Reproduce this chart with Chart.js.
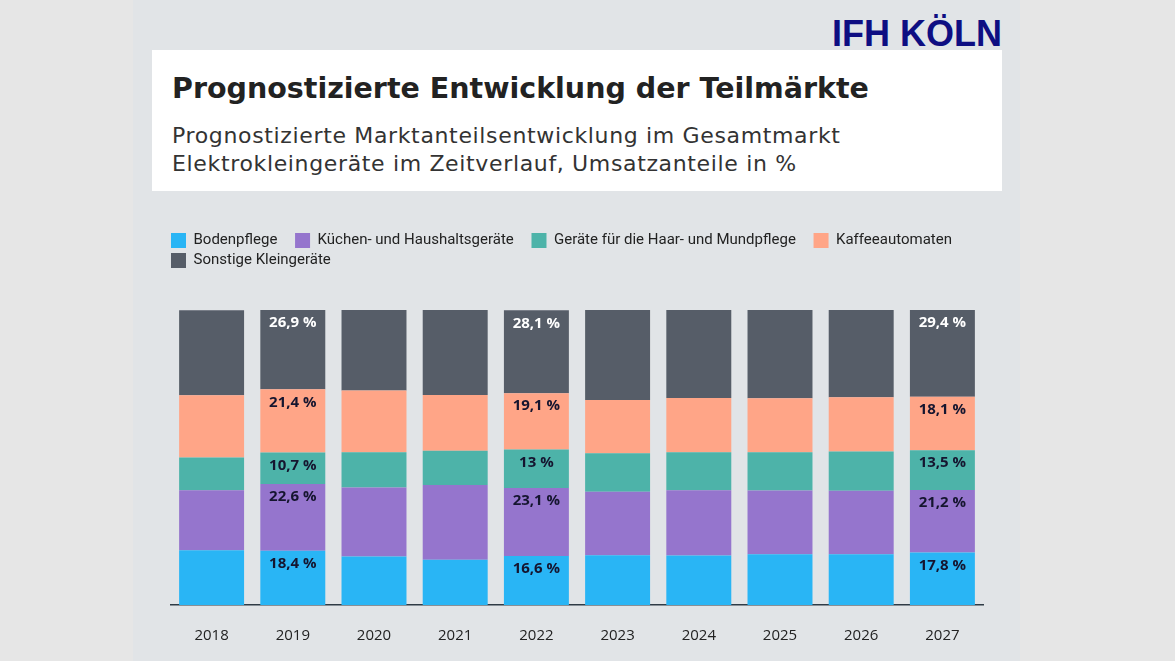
<!DOCTYPE html>
<html lang="de">
<head>
<meta charset="utf-8">
<title>Prognostizierte Entwicklung der Teilmärkte</title>
<script src="https://cdn.jsdelivr.net/npm/chart.js"></script>
<style>
  html, body { margin: 0; padding: 0; }
  body { width: 1175px; height: 661px; background: #e6e6e6; position: relative; overflow: hidden; }
  #panel { position: absolute; left: 133px; top: 0; width: 887px; height: 661px; background: #e1e4e7; }
  #logo { position: absolute; right: 173px; top: 16px; font: bold 36px/36px "Liberation Sans", Arial, sans-serif; color: #0e0e82; }
  #titlebox { position: absolute; left: 152px; top: 50px; width: 850px; height: 141px; background: #fff; }
  #title { position: absolute; left: 172px; top: 74px; font: bold 28.5px/29px "DejaVu Sans", sans-serif; color: #222; white-space: nowrap; }
  #subtitle { position: absolute; left: 172px; top: 122px; font: 22px/28px "DejaVu Sans", sans-serif; letter-spacing: 0.65px; color: #333; white-space: nowrap; }
  #chartWrap { position: absolute; left: 0; top: 0; width: 1175px; height: 661px; }
</style>
</head>
<body>
<div id="panel"></div>
<div id="logo">IFH KÖLN</div>
<div id="titlebox"></div>
<div id="title">Prognostizierte Entwicklung der Teilmärkte</div>
<div id="subtitle">Prognostizierte Marktanteilsentwicklung im Gesamtmarkt<br>Elektrokleingeräte im Zeitverlauf, Umsatzanteile in %</div>
<div id="chartWrap"><canvas id="chart"></canvas></div>

<script>
// years on the x axis
const years = ['2018', '2019', '2020', '2021', '2022', '2023', '2024', '2025', '2026', '2027'];

// market shares in % (labelled years read exactly, others estimated from the bars)
const bodenpflege = [18.6, 18.4, 16.4, 15.3, 16.6, 16.9, 16.8, 17.2, 17.2, 17.8];
const kuechen     = [20.3, 22.6, 23.4, 25.4, 23.1, 21.5, 22.1, 21.6, 21.5, 21.2];
const haarMund    = [11.1, 10.7, 12.0, 11.6, 13.0, 13.0, 12.9, 13.0, 13.3, 13.5];
const kaffee      = [21.1, 21.4, 20.9, 18.9, 19.1, 18.1, 18.4, 18.3, 18.4, 18.1];
const sonstige    = [28.8, 26.9, 27.4, 28.8, 28.1, 30.5, 29.8, 29.9, 29.6, 29.4];

// only these years carry value labels
const labelYears = ['2019', '2022', '2027'];

const seriesNames = [
  'Bodenpflege',
  'Küchen- und Haushaltsgeräte',
  'Geräte für die Haar- und Mundpflege',
  'Kaffeeautomaten',
  'Sonstige Kleingeräte'
];
const seriesColors = ['#29b5f5', '#9575cd', '#4db3a9', '#ffa587', '#565d68'];
const seriesValues = [bodenpflege, kuechen, haarMund, kaffee, sonstige];

// value labels at the top of each segment
const segmentLabels = {
  id: 'segmentLabels',
  afterDatasetsDraw(chart) {
    const ctx = chart.ctx;
    ctx.save();
    ctx.font = 'bold 15px "Open Sans", sans-serif';
    ctx.textAlign = 'center';
    ctx.textBaseline = 'middle';
    chart.data.datasets.forEach((ds, i) => {
      const meta = chart.getDatasetMeta(i);
      meta.data.forEach((bar, j) => {
        if (!labelYears.includes(chart.data.labels[j])) return;
        const text = String(ds.data[j]).replace('.', ',') + ' %';
        ctx.fillStyle = i === 4 ? '#ffffff' : '#15152f';
        ctx.fillText(text, bar.x, bar.y + 13);
      });
    });
    ctx.restore();
  }
};

// extra room between legend and bars
const legendSpacing = {
  id: 'legendSpacing',
  beforeInit(chart) {
    const origFit = chart.legend.fit;
    chart.legend.fit = function fit() {
      origFit.bind(chart.legend)();
      this.height += 32;
    };
  }
};

new Chart(document.getElementById('chart'), {
  type: 'bar',
  data: {
    labels: years,
    datasets: seriesNames.map((name, i) => ({
      label: name,
      data: seriesValues[i],
      backgroundColor: seriesColors[i],
      borderWidth: 0,
      barPercentage: 0.8,
      categoryPercentage: 1.0
    }))
  },
  options: {
    responsive: true,
    maintainAspectRatio: false,
    animation: false,
    layout: {
      padding: { left: 166, right: 192, top: 228, bottom: -6 }
    },
    plugins: {
      legend: {
        position: 'top',
        align: 'start',
        labels: {
          boxWidth: 15,
          boxHeight: 15,
          padding: 5,
          color: '#222',
          font: { family: 'Roboto', size: 15 },
          generateLabels(chart) {
            const items = Chart.defaults.plugins.legend.labels.generateLabels(chart);
            items.forEach(it => { it.text += '   \u200A'; });
            return items;
          }
        }
      },
      tooltip: { enabled: false }
    },
    scales: {
      x: {
        stacked: true,
        grid: { display: true, color: 'transparent', drawTicks: false, drawOnChartArea: false },
        border: { display: true, color: '#2f3b46', width: 1.5 },
        ticks: {
          padding: 22,
          color: '#222',
          font: { family: '"Open Sans"', size: 15, weight: '500' }
        }
      },
      y: {
        stacked: true,
        min: 0,
        max: 100,
        grid: { display: false },
        border: { display: false },
        ticks: { display: false },
        afterFit(scale) { scale.width = 5; }
      }
    }
  },
  plugins: [segmentLabels, legendSpacing]
});
</script>
</body>
</html>
